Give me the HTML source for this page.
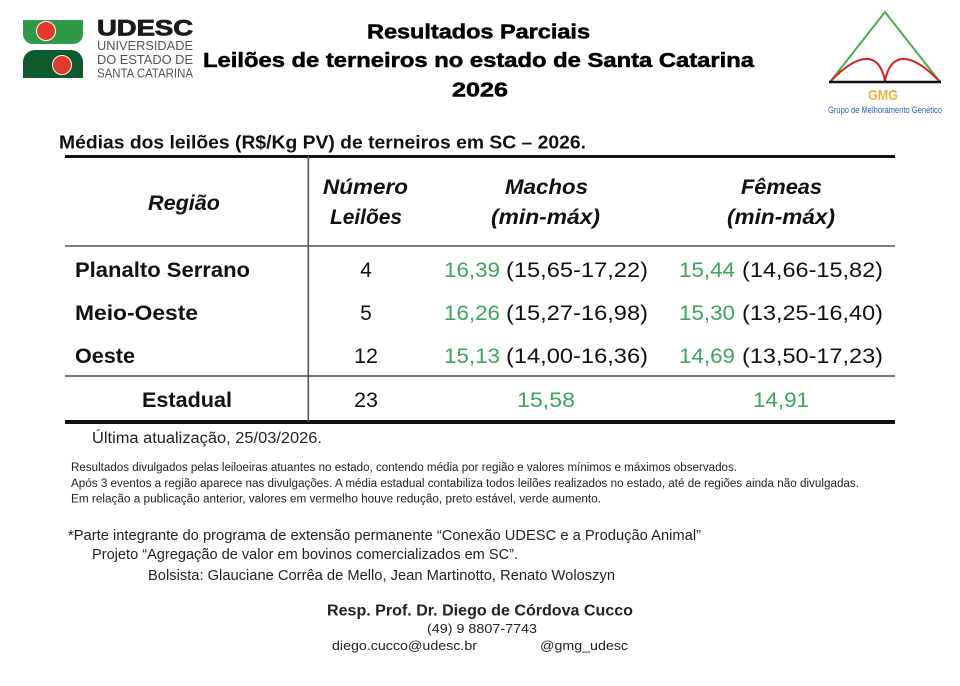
<!DOCTYPE html>
<html>
<head>
<meta charset="utf-8">
<style>
  html, body { margin:0; padding:0; background:#fff; }
  body { width:960px; height:686px; overflow:hidden; }
  svg { display:block; }
  text { font-family: "Liberation Sans", "DejaVu Sans", sans-serif; }
</style>
</head>
<body>
<svg width="960" height="686" viewBox="0 0 960 686" xmlns="http://www.w3.org/2000/svg">
  <defs>
    <linearGradient id="gmg" x1="0" y1="0" x2="0" y2="1">
      <stop offset="0" stop-color="#f2a23a"/>
      <stop offset="1" stop-color="#e9c64a"/>
    </linearGradient>
  </defs>
  <rect x="0" y="0" width="960" height="686" fill="#ffffff"/>

  <!-- UDESC logo -->
  <path d="M23,20 H83 V34 A10,10 0 0 1 73,44 H33 A10,10 0 0 1 23,34 Z" fill="#2f9a47"/>
  <circle cx="46" cy="31" r="9.5" fill="#e23a2e" stroke="#ffffff" stroke-width="1"/>
  <path d="M23,78 V62 A12,12 0 0 1 35,50 H71 A12,12 0 0 1 83,62 V78 Z" fill="#0e5a2c"/>
  <circle cx="62" cy="65" r="9.5" fill="#e23a2e" stroke="#ffffff" stroke-width="1"/>

  <text x="97" y="35.5" font-size="22" font-weight="bold" fill="#1a1a1a" stroke="#1a1a1a" stroke-width="0.8" textLength="96" lengthAdjust="spacingAndGlyphs">UDESC</text>
  <text x="97" y="50" font-size="12.5" fill="#555" textLength="96" lengthAdjust="spacingAndGlyphs">UNIVERSIDADE</text>
  <text x="97" y="64" font-size="12.5" fill="#555" textLength="96" lengthAdjust="spacingAndGlyphs">DO ESTADO DE</text>
  <text x="97" y="77.5" font-size="12.5" fill="#555" textLength="96" lengthAdjust="spacingAndGlyphs">SANTA CATARINA</text>

  <!-- GMG logo -->
  <polyline points="830,82 885,12 940,82" fill="none" stroke="#45b04c" stroke-width="2"/>
  <path d="M830,82 C845,66 858,58 869,59 C880,61 884,74 885,82 C886,74 890,61 901,59 C912,58 925,66 940,82" fill="none" stroke="#d42323" stroke-width="2"/>
  <line x1="829" y1="82" x2="941" y2="82" stroke="#111" stroke-width="2.5"/>
  <text x="883" y="100" font-size="15" font-weight="bold" fill="url(#gmg)" text-anchor="middle" textLength="30" lengthAdjust="spacingAndGlyphs">GMG</text>
  <text x="828" y="113" font-size="9" fill="#2a62b0" textLength="114" lengthAdjust="spacingAndGlyphs">Grupo de Melhoramento Genético</text>

  <!-- Title -->
  <text x="367" y="38.5" font-size="20" font-weight="bold" fill="#000" stroke="#000" stroke-width="0.5" textLength="223" lengthAdjust="spacingAndGlyphs">Resultados Parciais</text>
  <text x="203" y="67" font-size="20" font-weight="bold" fill="#000" stroke="#000" stroke-width="0.5" textLength="551" lengthAdjust="spacingAndGlyphs">Leilões de terneiros no estado de Santa Catarina</text>
  <text x="452" y="96.5" font-size="20" font-weight="bold" fill="#000" stroke="#000" stroke-width="0.5" textLength="56" lengthAdjust="spacingAndGlyphs">2026</text>

  <!-- Subtitle -->
  <text x="59" y="148.5" font-size="18" font-weight="bold" fill="#111" textLength="527" lengthAdjust="spacingAndGlyphs">Médias dos leilões (R$/Kg PV) de terneiros em SC – 2026.</text>

  <!-- Table lines -->
  <rect x="65" y="155" width="830" height="3" fill="#111"/>
  <rect x="65" y="245" width="830" height="2" fill="#7a7a7a"/>
  <rect x="65" y="375" width="830" height="2" fill="#7a7a7a"/>
  <rect x="65" y="420" width="830" height="4" fill="#111"/>
  <rect x="307.5" y="156" width="1.6" height="266" fill="#555"/>

  <!-- Header -->
  <text x="148" y="210" font-size="21" font-weight="bold" font-style="italic" fill="#111" textLength="72" lengthAdjust="spacingAndGlyphs">Região</text>
  <text x="323" y="194" font-size="21" font-weight="bold" font-style="italic" fill="#111" textLength="85" lengthAdjust="spacingAndGlyphs">Número</text>
  <text x="330" y="224" font-size="21" font-weight="bold" font-style="italic" fill="#111" textLength="72" lengthAdjust="spacingAndGlyphs">Leilões</text>
  <text x="505" y="194" font-size="21" font-weight="bold" font-style="italic" fill="#111" textLength="83" lengthAdjust="spacingAndGlyphs">Machos</text>
  <text x="491" y="224" font-size="21" font-weight="bold" font-style="italic" fill="#111" textLength="109" lengthAdjust="spacingAndGlyphs">(min-máx)</text>
  <text x="741" y="194" font-size="21" font-weight="bold" font-style="italic" fill="#111" textLength="81" lengthAdjust="spacingAndGlyphs">Fêmeas</text>
  <text x="727" y="224" font-size="21" font-weight="bold" font-style="italic" fill="#111" textLength="108" lengthAdjust="spacingAndGlyphs">(min-máx)</text>

  <!-- Row 1 -->
  <text x="75" y="277" font-size="21" font-weight="bold" fill="#111" textLength="175" lengthAdjust="spacingAndGlyphs">Planalto Serrano</text>
  <text x="366" y="277" font-size="21" fill="#111" text-anchor="middle">4</text>
  <text x="444" y="277" font-size="21" fill="#3ba45e" textLength="56" lengthAdjust="spacingAndGlyphs">16,39</text>
  <text x="506" y="277" font-size="21" fill="#111" textLength="142" lengthAdjust="spacingAndGlyphs">(15,65-17,22)</text>
  <text x="679" y="277" font-size="21" fill="#3ba45e" textLength="56" lengthAdjust="spacingAndGlyphs">15,44</text>
  <text x="742" y="277" font-size="21" fill="#111" textLength="141" lengthAdjust="spacingAndGlyphs">(14,66-15,82)</text>

  <!-- Row 2 -->
  <text x="75" y="320" font-size="21" font-weight="bold" fill="#111" textLength="123" lengthAdjust="spacingAndGlyphs">Meio-Oeste</text>
  <text x="366" y="320" font-size="21" fill="#111" text-anchor="middle">5</text>
  <text x="444" y="320" font-size="21" fill="#3ba45e" textLength="56" lengthAdjust="spacingAndGlyphs">16,26</text>
  <text x="506" y="320" font-size="21" fill="#111" textLength="142" lengthAdjust="spacingAndGlyphs">(15,27-16,98)</text>
  <text x="679" y="320" font-size="21" fill="#3ba45e" textLength="56" lengthAdjust="spacingAndGlyphs">15,30</text>
  <text x="742" y="320" font-size="21" fill="#111" textLength="141" lengthAdjust="spacingAndGlyphs">(13,25-16,40)</text>

  <!-- Row 3 -->
  <text x="75" y="363" font-size="21" font-weight="bold" fill="#111" textLength="60" lengthAdjust="spacingAndGlyphs">Oeste</text>
  <text x="354" y="363" font-size="21" fill="#111" textLength="24" lengthAdjust="spacingAndGlyphs">12</text>
  <text x="444" y="363" font-size="21" fill="#3ba45e" textLength="56" lengthAdjust="spacingAndGlyphs">15,13</text>
  <text x="506" y="363" font-size="21" fill="#111" textLength="142" lengthAdjust="spacingAndGlyphs">(14,00-16,36)</text>
  <text x="679" y="363" font-size="21" fill="#3ba45e" textLength="56" lengthAdjust="spacingAndGlyphs">14,69</text>
  <text x="742" y="363" font-size="21" fill="#111" textLength="141" lengthAdjust="spacingAndGlyphs">(13,50-17,23)</text>

  <!-- Estadual -->
  <text x="142" y="407" font-size="21" font-weight="bold" fill="#111" textLength="90" lengthAdjust="spacingAndGlyphs">Estadual</text>
  <text x="354" y="407" font-size="21" fill="#111" textLength="24" lengthAdjust="spacingAndGlyphs">23</text>
  <text x="517" y="407" font-size="21" fill="#3ba45e" textLength="58" lengthAdjust="spacingAndGlyphs">15,58</text>
  <text x="753" y="407" font-size="21" fill="#3ba45e" textLength="56" lengthAdjust="spacingAndGlyphs">14,91</text>

  <!-- Update -->
  <text x="92" y="443" font-size="15.5" fill="#222" textLength="230" lengthAdjust="spacingAndGlyphs">Última atualização, 25/03/2026.</text>

  <!-- Notes -->
  <text x="71" y="471" font-size="11.5" fill="#222" textLength="666" lengthAdjust="spacingAndGlyphs">Resultados divulgados pelas leiloeiras atuantes no estado, contendo média por região e valores mínimos e máximos observados.</text>
  <text x="71" y="487" font-size="11.5" fill="#222" textLength="788" lengthAdjust="spacingAndGlyphs">Após 3 eventos a região aparece nas divulgações. A média estadual contabiliza todos leilões realizados no estado, até de regiões ainda não divulgadas.</text>
  <text x="71" y="502.5" font-size="11.5" fill="#222" textLength="530" lengthAdjust="spacingAndGlyphs">Em relação a publicação anterior, valores em vermelho houve redução, preto estável, verde aumento.</text>

  <!-- Program -->
  <text x="68" y="540" font-size="15" fill="#222" textLength="633" lengthAdjust="spacingAndGlyphs">*Parte integrante do programa de extensão permanente “Conexão UDESC e a Produção Animal”</text>
  <text x="92" y="559" font-size="15" fill="#222" textLength="426" lengthAdjust="spacingAndGlyphs">Projeto “Agregação de valor em bovinos comercializados em SC”.</text>
  <text x="148" y="580" font-size="15" fill="#222" textLength="467" lengthAdjust="spacingAndGlyphs">Bolsista: Glauciane Corrêa de Mello, Jean Martinotto, Renato Woloszyn</text>

  <!-- Responsible -->
  <text x="327" y="615.5" font-size="16" font-weight="bold" fill="#222" textLength="306" lengthAdjust="spacingAndGlyphs">Resp. Prof. Dr. Diego de Córdova Cucco</text>
  <text x="427" y="633" font-size="13" fill="#222" textLength="110" lengthAdjust="spacingAndGlyphs">(49) 9 8807-7743</text>
  <text x="332" y="650" font-size="13" fill="#222" textLength="145" lengthAdjust="spacingAndGlyphs">diego.cucco@udesc.br</text>
  <text x="540" y="650" font-size="13" fill="#222" textLength="88" lengthAdjust="spacingAndGlyphs">@gmg_udesc</text>
</svg>
</body>
</html>
